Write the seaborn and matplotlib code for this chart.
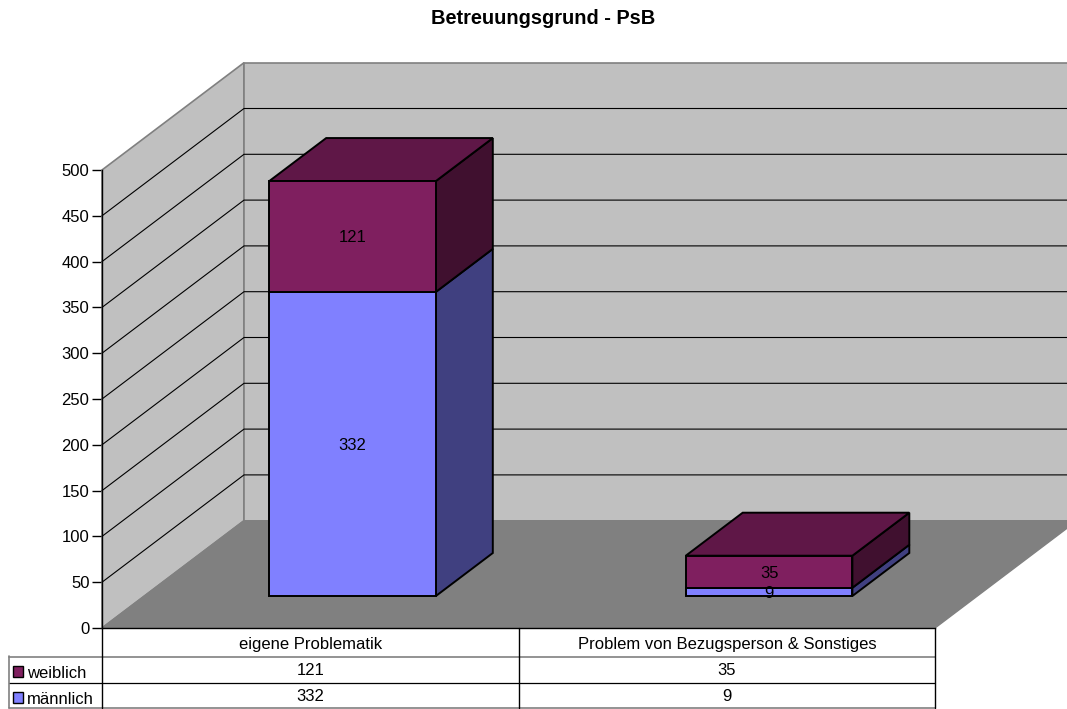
import matplotlib
matplotlib.use('Agg')
import matplotlib.pyplot as plt
import numpy as np
import pandas as pd
import seaborn as sns
from matplotlib.patches import Polygon, Rectangle
from matplotlib.transforms import Affine2D, IdentityTransform

categories = ['eigene Problematik', 'Problem von Bezugsperson & Sonstiges']
maennlich = [332, 9]
weiblich = [121, 35]
y_ticks = [0, 50, 100, 150, 200, 250, 300, 350, 400, 450, 500]

W, H = 1067, 709
FS = 12
BLUE, BLUE_SIDE = '#8080FF', '#404080'
WINE, WINE_SIDE, WINE_TOP = '#7F1F5F', '#40102F', '#5F1747'
WALL, FLOOR, EDGE = '#C0C0C0', '#808080', '#808080'

sns.set_style('white')
plt.rcParams['font.family'] = ['Liberation Sans', 'DejaVu Sans']

df = pd.DataFrame({'Kategorie': categories, 'maennlich': maennlich, 'weiblich': weiblich})

fig = plt.figure(figsize=(W / 100, H / 100), dpi=100)
ax = fig.add_axes([102 / W, (H - 628) / H, 833 / W, 458 / H])
ax.set_ylim(0, 500)

# bars, shifted into the room afterwards
sns.barplot(data=df, x='Kategorie', y='maennlich', color=BLUE, saturation=1, width=0.4,
            edgecolor='black', linewidth=1.4, ax=ax, zorder=5)
sns.barplot(data=df, x='Kategorie', y='weiblich', bottom=df['maennlich'], color=WINE, saturation=1, width=0.4,
            edgecolor='black', linewidth=1.4, ax=ax, zorder=5)
ax.set_xlim(-0.5, 1.5)
ax.set_ylim(0, 500)
ax.set_xlabel('')
ax.set_ylabel('')
ax.set_xticks([])
ax.set_yticks(y_ticks)
ax.tick_params(axis='y', left=True, length=7, width=1, color='black', labelsize=FS, labelcolor='black', pad=2)
ax.patch.set_visible(False)
sns.despine(ax=ax)
for s in ['left', 'bottom']:
    ax.spines[s].set_color('black')
    ax.spines[s].set_linewidth(1)
    ax.spines[s].set_zorder(6)

DEPTH = np.array([142.0, 107.3])
BAR_D0, BAR_D1 = 32 / 107.3, 75 / 107.3
X0, X1 = ax.get_xlim()


def pt(x, y, d):
    return ax.transData.transform((x, y)) + d * DEPTH


def face(points, color, edge, lw, z):
    ax.add_patch(Polygon(points, closed=True, facecolor=color, edgecolor=edge, linewidth=lw,
                         transform=IdentityTransform(), clip_on=True if z < 3 else False, zorder=z))


# room
clip_fig = Rectangle((0, 0), W, H, transform=IdentityTransform())
face([pt(X0, 0, 0), pt(X0, 500, 0), pt(X0, 500, 1), pt(X0, 0, 1)], WALL, EDGE, 1.2, 1)
face([pt(X0, 0, 1), pt(X0, 500, 1), pt(X1, 500, 1), pt(X1, 0, 1)], WALL, EDGE, 1.2, 1)
face([pt(X0, 0, 0), pt(X1, 0, 0), pt(X1, 0, 1), pt(X0, 0, 1)], FLOOR, FLOOR, 1, 1.5)
for p in ax.patches:
    if isinstance(p, Polygon):
        p.set_clip_path(clip_fig)
for t in y_ticks[1:-1]:
    a, b, c = pt(X0, t, 0), pt(X0, t, 1), pt(X1, t, 1)
    ax.plot([a[0], b[0], c[0]], [a[1], b[1], c[1]], color='black', lw=0.8,
            transform=IdentityTransform(), zorder=2, clip_on=False)

# shift the front faces
off = BAR_D0 * DEPTH
shift = ax.transData + Affine2D().translate(off[0], off[1])
for p in ax.patches:
    if isinstance(p, Rectangle) and p is not clip_fig:
        p.set_transform(shift)
        p.set_clip_on(False)

# sides and tops
for i in range(len(categories)):
    xl, xr = i - 0.2, i + 0.2
    m, w = maennlich[i], maennlich[i] + weiblich[i]
    face([pt(xr, 0, BAR_D0), pt(xr, m, BAR_D0), pt(xr, m, BAR_D1), pt(xr, 0, BAR_D1)], BLUE_SIDE, 'black', 1.4, 4)
    face([pt(xr, m, BAR_D0), pt(xr, w, BAR_D0), pt(xr, w, BAR_D1), pt(xr, m, BAR_D1)], WINE_SIDE, 'black', 1.4, 4)
    face([pt(xl, w, BAR_D0), pt(xr, w, BAR_D0), pt(xr, w, BAR_D1), pt(xl, w, BAR_D1)], WINE_TOP, 'black', 1.4, 4)
    ax.text(i, m / 2, str(maennlich[i]), transform=shift, ha='center', va='center_baseline', fontsize=FS, color='black', zorder=7)
    ax.text(i, m + weiblich[i] / 2, str(weiblich[i]), transform=shift, ha='center', va='center_baseline', fontsize=FS,
            color='black', zorder=7)

# overlay in picture pixels for title and data table
ov = fig.add_axes([0, 0, 1, 1])
ov.set_xlim(0, W)
ov.set_ylim(H, 0)
ov.axis('off')
ov.patch.set_visible(False)

ov.text(543, 18, 'Betreuungsgrund - PsB', ha='center', va='center', fontsize=14.4, fontweight='bold', color='black')

ov.plot([9, 935], [656.5, 656.5], color=EDGE, lw=1.2)
ov.plot([9, 935], [682.5, 682.5], color='black', lw=0.9)
ov.plot([9, 935], [708, 708], color=EDGE, lw=1.2)
ov.plot([9, 9], [656, 708], color=EDGE, lw=1.2)
for x in [102, 519, 935]:
    ov.plot([x, x], [628, 708], color='black', lw=1)

centers = [310.5, 727]
for cx, cat, w_val, m_val in zip(centers, categories, weiblich, maennlich):
    ov.text(cx, 643, cat, ha='center', va='center_baseline', fontsize=FS, color='black')
    ov.text(cx, 669, str(w_val), ha='center', va='center_baseline', fontsize=FS, color='black')
    ov.text(cx, 695, str(m_val), ha='center', va='center_baseline', fontsize=FS, color='black')

for yk, col, lab in [(666, WINE, 'weiblich'), (692, BLUE, 'männlich')]:
    ov.add_patch(Rectangle((12.5, yk), 10.5, 10.5, facecolor=col, edgecolor='black', linewidth=1))
    ov.text(27, yk + 6, lab, ha='left', va='center_baseline', fontsize=FS, color='black')

fig.savefig('out.png', dpi=100)
